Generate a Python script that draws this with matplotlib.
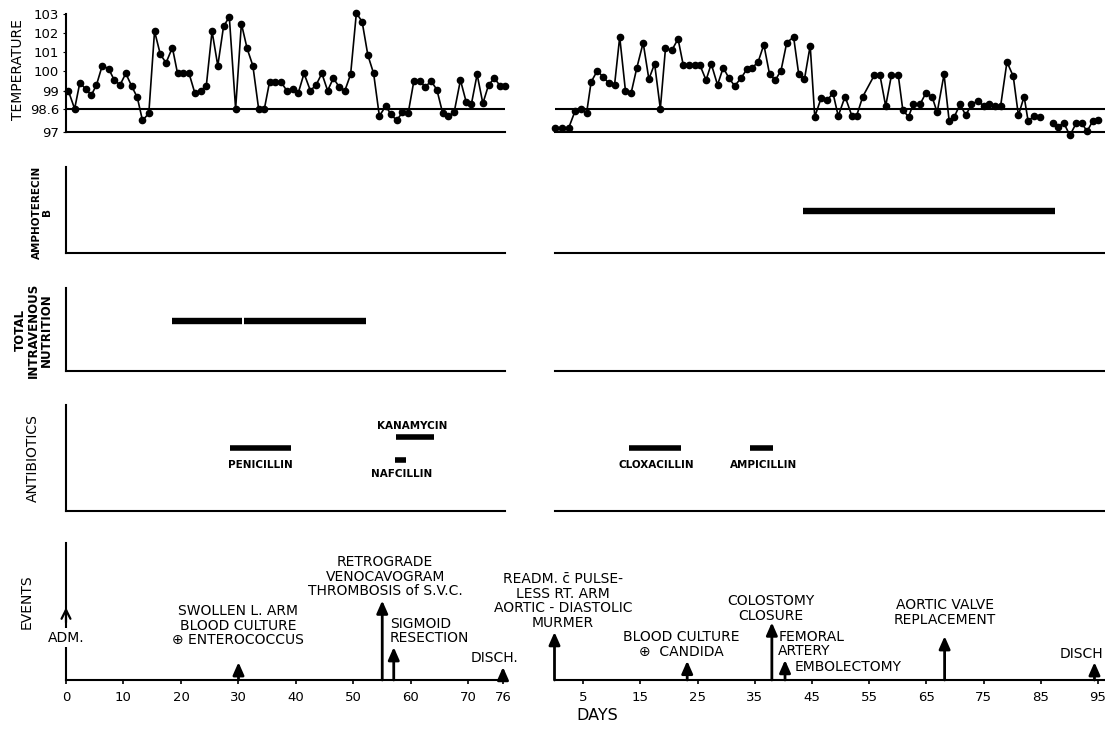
import numpy as np
import matplotlib
matplotlib.use('Agg')
import matplotlib.pyplot as plt

plt.rcParams['font.family'] = ['DejaVu Sans']

W, H = 1105, 731

# ---- temperature, first admission (day, deg F)
temp_days_1 = [0.4, 1.5, 2.4, 3.4, 4.4, 5.3, 6.3, 7.4, 8.4, 9.4, 10.4, 11.4, 12.4, 13.3,
               14.4, 15.4, 16.4, 17.4, 18.5, 19.4, 20.4, 21.4, 22.4, 23.4, 24.4, 25.4,
               26.4, 27.4, 28.4, 29.5, 30.5, 31.5, 32.5, 33.5, 34.5, 35.4, 36.4, 37.4,
               38.4, 39.4, 40.4, 41.4, 42.5, 43.5, 44.5, 45.5, 46.5, 47.5, 48.5, 49.5,
               50.5, 51.5, 52.5, 53.5, 54.5, 55.6, 56.5, 57.5, 58.5, 59.5, 60.5, 61.5,
               62.5, 63.5, 64.5, 65.5, 66.5, 67.5, 68.6, 69.6, 70.5, 71.5, 72.5, 73.5,
               74.5, 75.5, 76.4]
temp_vals_1 = [99.0, 98.6, 99.4, 99.1, 98.9, 99.3, 100.3, 100.15, 99.55, 99.3, 99.9, 99.25,
               98.85, 97.8, 98.28, 102.1, 100.9, 100.45, 101.25, 99.9, 99.9, 99.9, 98.95,
               99.0, 99.25, 102.1, 100.3, 102.35, 102.85, 98.6, 102.5, 101.2, 100.3, 98.6,
               98.6, 99.45, 99.45, 99.45, 99.0, 99.1, 98.95, 99.9, 99.0, 99.3, 99.9, 99.0,
               99.65, 99.2, 99.0, 99.85, 103.05, 102.6, 100.85, 99.9, 98.1, 98.66, 98.23,
               97.8, 98.35, 98.28, 99.5, 99.5, 99.2, 99.5, 99.05, 98.32, 98.1, 98.35,
               99.55, 98.75, 98.7, 99.85, 98.72, 99.3, 99.65, 99.25, 99.25]

# ---- temperature, second admission (nan = no readings)
temp_days_2 = [0.1, 1.3, 2.5, 3.6, 4.7, 5.6, 6.4, 7.5, 8.5, 9.5, 10.5, 11.4, 12.4, 13.4,
               14.4, 15.5, 16.5, 17.5, 18.5, 19.4, 20.5, 21.6, 22.5, 23.5, 24.5, 25.4,
               26.5, 27.4, 28.5, 29.5, 30.5, 31.5, 32.6, 33.7, 34.6, 35.6, 36.6, 37.6,
               38.6, 39.6, 40.6, 41.8, 42.7, 43.7, 44.7, 45.5, 46.6, 47.7, 48.7, 49.6,
               50.8, 52.0, 52.8, 53.9, 55.9, 56.9, 57.9, 58.9, 60.1, 60.9, 61.9, 62.7,
               63.9, 64.9, 66.0, 66.9, 68.1, 69.0, 69.9, 70.9, 71.9, 72.9, 74.0, 75.0,
               76.0, 77.0, 78.0, 79.1, 80.2, 81.1, 82.1, 82.8, 83.8, 84.9, 86.0,
               87.2, 88.1, 89.0, 90.1, 91.2, 92.2, 93.1, 94.1, 95.1]
temp_vals_2 = [97.3, 97.3, 97.3, 98.45, 98.6, 98.28, 99.45, 100.05, 99.7, 99.4, 99.3, 101.8,
               99.0, 98.95, 100.2, 101.5, 99.6, 100.4, 98.6, 101.2, 101.1, 101.7, 100.35,
               100.35, 100.35, 100.35, 99.55, 100.4, 99.3, 100.2, 99.65, 99.25, 99.65,
               100.15, 100.2, 100.5, 101.4, 99.85, 99.55, 100.05, 101.5, 101.8, 99.85,
               99.6, 101.35, 98.05, 98.83, 98.8, 98.94, 98.1, 98.87, 98.1, 98.1, 98.87,
               99.8, 99.8, 98.66, 99.8, 99.8, 98.5, 98.05, 98.7, 98.7, 98.94, 98.87,
               98.35, 99.85, 97.75, 98.05, 98.7, 98.15, 98.7, 98.77, 98.67, 98.7, 98.67,
               98.67, 100.5, 99.75, 98.15, 98.87, 97.75, 98.1, 98.05, np.nan,
               97.65, 97.35, 97.65, 96.77, 97.6, 97.6, 97.05, 97.75, 97.8]

temp_ticks = [97, 98.6, 99, 100, 101, 102, 103]
temp_tick_labels = ['97', '98.6', '99', '100', '101', '102', '103']

# ---- treatment periods (start day, end day)
ampho_start_2, ampho_end_2 = [43.4], [87.5]
tpn_start_1, tpn_end_1 = [18.4, 31.0], [30.6, 52.2]

abx_names_1 = ['PENICILLIN', 'KANAMYCIN', 'NAFCILLIN']
abx_start_1 = [28.5, 57.4, 57.2]
abx_end_1 = [39.1, 64.0, 59.1]
abx_names_2 = ['CLOXACILLIN', 'AMPICILLIN']
abx_start_2 = [13.0, 34.2]
abx_end_2 = [22.1, 38.2]

# ---- events
event_days_1 = [30, 55, 57, 76]
event_labels_1 = ['SWOLLEN L. ARM\nBLOOD CULTURE\n\u2295 ENTEROCOCCUS',
                  'RETROGRADE\nVENOCAVOGRAM\nTHROMBOSIS of S.V.C.',
                  'SIGMOID\nRESECTION', 'DISCH.']
event_days_2 = [0, 23.2, 38, 40.3, 68.2, 94.4]
event_labels_2 = ['READM. c\u0304 PULSE-\nLESS RT. ARM\nAORTIC - DIASTOLIC\nMURMER',
                  'BLOOD CULTURE\n\u2295  CANDIDA', 'COLOSTOMY\nCLOSURE',
                  'FEMORAL\nARTERY', 'AORTIC VALVE\nREPLACEMENT', 'DISCH']

xticks_1 = [0, 10, 20, 30, 40, 50, 60, 70, 76]
xticks_2 = [5, 15, 25, 35, 45, 55, 65, 75, 85, 95]


# ---------------------------------------------------------------- layout
def px_rect(x0, y0, x1, y1):
    return [x0 / W, 1 - y1 / H, (x1 - x0) / W, (y1 - y0) / H]


# the hand drawn temperature scale is stretched between 98.6 and 99
t_nodes = [90, 97, 98.6, 99, 103, 110]
t_px = [-100.8, 0, 23, 41, 117, 250]


def t_fwd(v):
    return np.interp(v, t_nodes, t_px)


def t_inv(p):
    return np.interp(p, t_px, t_nodes)


L0, L1, R0, R1 = 66, 505, 554.5, 1105
xmax_1, xmax_2 = 76.35, 96.24
rows = {'temp': (14, 132), 'ampho': (167, 253), 'tpn': (288, 371),
        'abx': (405, 511), 'events': (543, 680)}

fig = plt.figure(figsize=(W / 100, H / 100), dpi=100)
axes = {}
for name, (ytop, ybot) in rows.items():
    a1 = fig.add_axes(px_rect(L0, ytop, L1, ybot))
    a2 = fig.add_axes(px_rect(R0, ytop, R1, ybot))
    for a, xm in ((a1, xmax_1), (a2, xmax_2)):
        a.set_xlim(0, xm)
        a.set_facecolor('none')
        a.spines['top'].set_visible(False)
        a.spines['right'].set_visible(False)
        a.spines['bottom'].set_linewidth(1.5)
        a.spines['left'].set_linewidth(1.5)
        a.set_xticks([])
        a.set_yticks([])
        if name != 'temp':
            a.set_ylim(0, 1)
    a2.spines['left'].set_visible(False)
    axes[name] = (a1, a2)

# temperature
ta1, ta2 = axes['temp']
for a, d, v in ((ta1, temp_days_1, temp_vals_1), (ta2, temp_days_2, temp_vals_2)):
    a.set_yscale('function', functions=(t_fwd, t_inv))
    a.set_ylim(97, 103)
    a.axhline(98.6, color='black', lw=1.5)
    a.plot(d, v, color='black', lw=1.2, marker='o', ms=4.5, clip_on=False)
    a.yaxis.set_minor_locator(matplotlib.ticker.NullLocator())
ta1.set_yticks(temp_ticks)
ta1.set_yticklabels(temp_tick_labels)
ta1.tick_params(axis='y', length=2, pad=3, labelsize=9.5)
ta2.set_yticks([])

# amphotericin B and intravenous nutrition
axes['ampho'][1].hlines([0.49] * len(ampho_start_2), ampho_start_2, ampho_end_2,
                        color='black', lw=4.6)
axes['tpn'][0].hlines([0.60] * len(tpn_start_1), tpn_start_1, tpn_end_1,
                      color='black', lw=4.6)

# antibiotics
ab1, ab2 = axes['abx']
bar_y_1 = [0.594, 0.698, 0.481]
lab_pos_1 = [(33.8, 0.434), (60.2, 0.80), (58.3, 0.35)]
ab1.hlines(bar_y_1, abx_start_1, abx_end_1, color='black', lw=4)
for name, (x, y) in zip(abx_names_1, lab_pos_1):
    ab1.text(x, y, name, ha='center', va='center', fontsize=7.5, fontweight='bold')
bar_y_2 = [0.594, 0.594]
lab_pos_2 = [(17.8, 0.434), (36.6, 0.434)]
ab2.hlines(bar_y_2, abx_start_2, abx_end_2, color='black', lw=4)
for name, (x, y) in zip(abx_names_2, lab_pos_2):
    ab2.text(x, y, name, ha='center', va='center', fontsize=7.5, fontweight='bold')

# events
ev1, ev2 = axes['events']
arrow_kw = dict(arrowstyle='-|>,head_length=0.75,head_width=0.33', lw=2.0,
                color='black', shrinkA=0, shrinkB=0, mutation_scale=10)
heights_1 = [0.13, 0.58, 0.24, 0.095]
heights_2 = [0.35, 0.14, 0.42, 0.146, 0.32, 0.13]
for a, days, hs in ((ev1, event_days_1, heights_1), (ev2, event_days_2, heights_2)):
    for d, h in zip(days, hs):
        a.annotate('', xy=(d, h), xytext=(d, 0), arrowprops=arrow_kw,
                   annotation_clip=False)

# admission: open arrow on the axis line
ev1.annotate('', xy=(0, 0.53), xytext=(0, 0.42),
             arrowprops=dict(arrowstyle='->', lw=1.6, color='black', shrinkA=0,
                             shrinkB=0, mutation_scale=16))
ev1.text(0, 0.31, 'ADM.', ha='center', va='center', fontsize=10,
         bbox=dict(facecolor='white', edgecolor='none', pad=1.5), clip_on=False)

lab_1 = [(29.9, 0.24, 'center'), (55.5, 0.595, 'center'), (56.3, 0.255, 'left'),
         (74.6, 0.11, 'center')]
for txt, (x, y, ha) in zip(event_labels_1, lab_1):
    ev1.text(x, y, txt, ha=ha, va='bottom', fontsize=10, linespacing=1.05,
             multialignment=ha, clip_on=False)
lab_2 = [(1.5, 0.365, 'center'), (22.1, 0.153, 'center'), (37.9, 0.416, 'center'),
         (39.1, 0.16, 'left'), (68.2, 0.387, 'center'), (92.2, 0.14, 'center')]
for txt, (x, y, ha) in zip(event_labels_2, lab_2):
    ev2.text(x, y, txt, ha=ha, va='bottom', fontsize=10, linespacing=1.05,
             multialignment=ha, clip_on=False)
ev2.text(42.0, 0.044, 'EMBOLECTOMY', ha='left', va='bottom', fontsize=10)

for a, ticks in ((ev1, xticks_1), (ev2, xticks_2)):
    a.set_xticks(ticks)
    a.set_xticklabels([str(t) for t in ticks])
    a.tick_params(axis='x', length=3, width=1.2, pad=5, labelsize=9.5)

fig.text(597 / W, 1 - 716 / H, 'DAYS', ha='center', va='center', fontsize=11.5)

# row titles
row_titles = [('TEMPERATURE', 18, 70, 10, 'normal'),
              ('AMPHOTERECIN\nB', 42, 212, 7.5, 'bold'),
              ('TOTAL\nINTRAVENOUS\nNUTRITION', 33, 330, 8.5, 'bold'),
              ('ANTIBIOTICS', 33, 458, 10, 'normal'),
              ('EVENTS', 27, 602, 10, 'normal')]
for txt, x, y, fs, fw in row_titles:
    fig.text(x / W, 1 - y / H, txt, rotation=90, ha='center', va='center',
             fontsize=fs, fontweight=fw, multialignment='center', linespacing=1.0)

fig.savefig('out.png', dpi=100)
